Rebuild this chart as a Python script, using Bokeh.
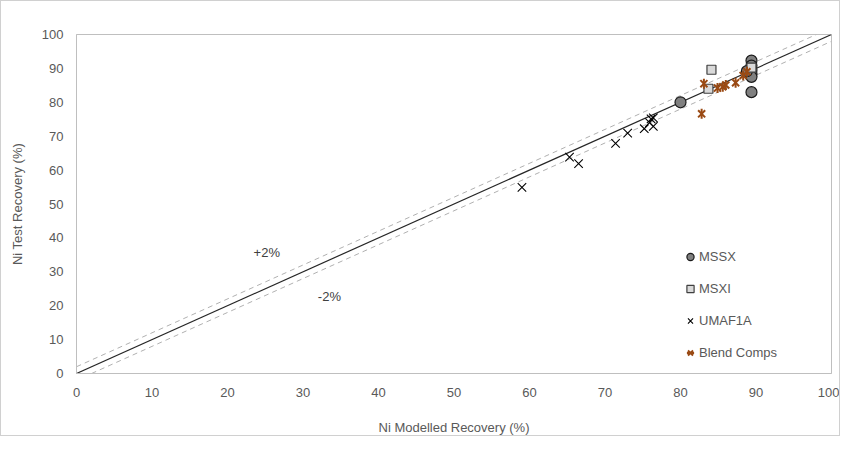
import numpy as np
from bokeh.plotting import figure
from bokeh.models import Range1d, FixedTicker, Legend, LegendItem, Label
from bokeh.embed import file_html
from bokeh.resources import INLINE

# --- data ---
mssx_x = [80.0, 89.4, 89.4, 89.4, 89.4, 89.4, 89.4, 88.8]
mssx_y = [80.0, 92.3, 90.8, 89.5, 88.5, 87.5, 83.0, 89.2]

msxi_x = [84.1, 83.7, 89.4]
msxi_y = [89.6, 84.0, 90.2]

umaf_x = [59.0, 65.3, 66.5, 71.4, 73.0, 75.2, 76.1, 76.4, 76.4, 75.9]
umaf_y = [54.9, 63.8, 61.9, 67.9, 70.9, 72.2, 75.1, 75.4, 72.9, 74.0]

blend_x = [83.1, 82.8, 84.9, 85.6, 86.0, 87.3, 88.3, 88.8]
blend_y = [85.5, 76.6, 84.2, 84.6, 85.1, 85.8, 87.9, 89.0]

ref_x = [0, 100]
band = 2
ticks = list(range(0, 101, 10))

FONT = "Liberation Sans"
TXT = "#595959"

p = figure(width=840, height=436, output_backend="svg", toolbar_location=None,
           x_range=Range1d(0, 100), y_range=Range1d(0, 100),
           min_border_left=75, min_border_right=10, min_border_top=33, min_border_bottom=60)
p.styles = {"border": "1px solid #d0d0d0", "box-sizing": "border-box"}
p.xgrid.visible = False
p.ygrid.visible = False
p.outline_line_color = "#bfbfbf"
p.background_fill_color = "white"
p.border_fill_color = "white"

for ax in (p.xaxis[0], p.yaxis[0]):
    ax.ticker = FixedTicker(ticks=ticks)
    ax.major_tick_line_color = None
    ax.minor_tick_line_color = None
    ax.axis_line_color = "#bfbfbf"
    ax.major_label_text_font = FONT
    ax.major_label_text_font_size = "13px"
    ax.major_label_text_color = TXT
    ax.axis_label_text_font = FONT
    ax.axis_label_text_font_size = "13px"
    ax.axis_label_text_font_style = "normal"
    ax.axis_label_text_color = TXT

p.xaxis.axis_label = "Ni Modelled Recovery (%)"
p.yaxis.axis_label = "Ni Test Recovery (%)"
p.xaxis.major_label_standoff = 8
p.yaxis.major_label_standoff = 7
p.xaxis.axis_label_standoff = 20
p.yaxis.axis_label_standoff = 14

# reference lines
rx = np.array(ref_x, dtype=float)
p.line([0, 100 - band], [band, 100], line_color="#b0b0b0", line_dash="5 4", line_width=1)
p.line([band, 100], [0, 100 - band], line_color="#b0b0b0", line_dash="5 4", line_width=1)
p.line(rx, rx, line_color="#262626", line_width=1.2)

r_mssx = p.scatter(mssx_x, mssx_y, marker="circle", size=11, fill_color="#808080",
                   line_color="#1a1a1a", line_width=1.2)
r_msxi = p.scatter(msxi_x, msxi_y, marker="square", size=9, fill_color="#d9d9d9",
                   line_color="#404040", line_width=1.2)
r_umaf = p.scatter(umaf_x, umaf_y, marker="x", size=12, line_color="#000000", line_width=1.1)
r_bl1 = p.scatter(blend_x, blend_y, marker="x", size=10, line_color="#9a4a14", line_width=2)
r_bl2 = p.scatter(blend_x, blend_y, marker="dash", angle=np.pi / 2, size=10,
                  line_color="#9a4a14", line_width=2)

for txt, x, y in (("+2%", 25.2, 35.8), ("-2%", 33.5, 22.6)):
    p.add_layout(Label(x=x, y=y, text=txt, text_font=FONT, text_font_size="13px",
                       text_color="#404040", text_align="center", text_baseline="middle"))

legend = Legend(items=[
    LegendItem(label="MSSX", renderers=[r_mssx]),
    LegendItem(label="MSXI", renderers=[r_msxi]),
    LegendItem(label="UMAF1A", renderers=[r_umaf]),
    LegendItem(label="Blend Comps", renderers=[r_bl1, r_bl2]),
], location=(605, 11))
legend.background_fill_alpha = 0
legend.border_line_color = None
legend.label_text_font = FONT
legend.label_text_font_size = "13px"
legend.label_text_color = TXT
legend.glyph_width = 18
legend.glyph_height = 19
legend.label_standoff = -2
legend.spacing = 13
legend.padding = 0
legend.margin = 0
legend.label_height = 19
p.add_layout(legend, "center")

open("out.html", "w").write(file_html(p, INLINE))
